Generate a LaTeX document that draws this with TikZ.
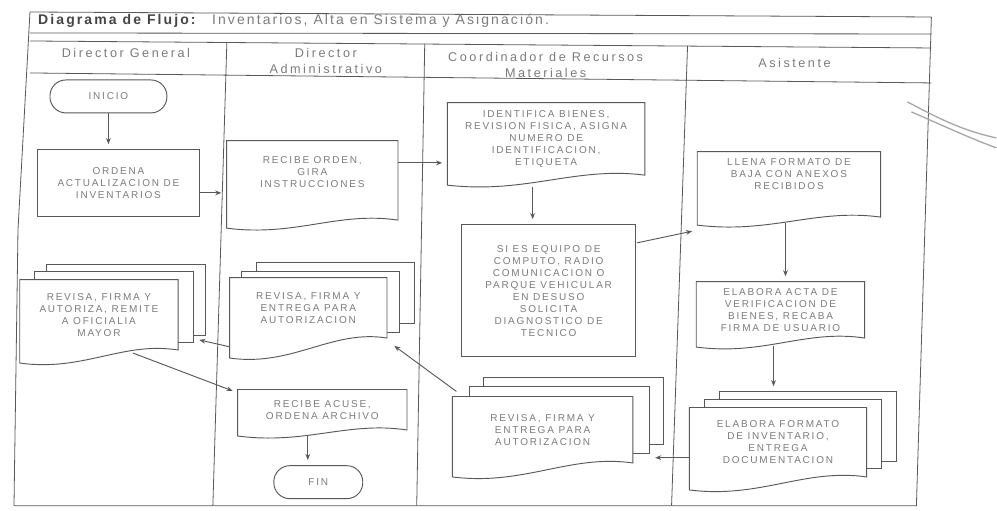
\documentclass[tikz,border=0pt]{standalone}
\usepackage{fontspec}
\setmainfont{Liberation Sans}
\newfontfamily\boxfont[LetterSpace=18]{Liberation Sans}
\newfontfamily\headfont[LetterSpace=20]{Liberation Sans}
\newfontfamily\titlefont[LetterSpace=15]{Liberation Sans}
\usetikzlibrary{arrows.meta,calc}
\pgfdeclarelayer{bg}
\pgfsetlayers{bg,main}
\definecolor{ink}{HTML}{585858}
\definecolor{txtgray}{HTML}{7C7C7C}
\definecolor{titlegray}{HTML}{454545}
\definecolor{scribble}{HTML}{A8A8A8}
\tikzset{
  frameline/.style={draw=ink, line width=0.6pt},
  boxline/.style={draw=ink, line width=0.7pt},
  boxtext/.style={font=\boxfont\fontsize{7.5}{9}\selectfont, text=txtgray, align=center, inner sep=0pt},
  procbox/.style={boxtext, boxline, fill=white},
  termbox/.style={boxtext, boxline, rounded corners=12pt},
  docnode/.style={boxtext},
  headtext/.style={font=\headfont\fontsize{9.5}{11.5}\selectfont, text=txtgray, align=center, inner sep=0pt},
  titletext/.style={font=\titlefont\fontsize{10.5}{12}\selectfont, inner sep=0pt, anchor=west},
  flow/.style={draw=ink, line width=0.7pt, -{Stealth[length=4.5pt,width=3.6pt]}, shorten >=4pt},
  scrib/.style={draw=scribble, line width=1pt},
}
\newcommand\docshape[2]{%
  \draw[boxline,fill=white] (#1.south east) -- (#1.north east) -- (#1.north west) -- ($(#1.south west)+(0,#2)$)
    .. controls ($(#1.south west)!0.4!(#1.south east)+(0,#2+9)$) and ($(#1.south west)!0.65!(#1.south east)+(0,-9)$) .. (#1.south east) -- cycle;}
\newcommand\multidoc[6]{%
  \draw[boxline,fill=white] ($(#1.south west)+(#5,#6)$) rectangle ($(#1.north east)+(#5,#6)$);
  \draw[boxline,fill=white] ($(#1.south west)+(#3,#4)$) rectangle ($(#1.north east)+(#3,#4)$);
  \docshape{#1}{#2}}
\begin{document}
\begin{tikzpicture}[x=0.75pt,y=-0.75pt]
\begin{pgfonlayer}{bg}
\path[use as bounding box, fill=white] (0,0) rectangle (997,511);
\end{pgfonlayer}

% frame and lanes
\draw[frameline] (30,12) -- (932,17);
\draw[frameline] (30,33) -- (932,34);
\draw[frameline] (30,41) -- (932,48);
\draw[frameline] (30,73) -- (932,83);
\draw[frameline] (30,12) -- (18,230) -- (14,506) -- (917,506) -- (932,17);
\draw[frameline] (227,42.5) -- (213,506);
\draw[frameline] (425,44) -- (417,506);
\draw[frameline] (688,46) -- (672,506);

% title
\node[titletext, text=titlegray] (ttl) at (38,21) {\bfseries Diagrama de Flujo:};
\node[titletext, text=txtgray] (ttl2) at (212,21) {Inventarios, Alta en Sistema y Asignación.};

% lane headers
\node[headtext] (hdg) at (126,53) {Director General};
\node[headtext] (hda) at (326,61) {Director\\Administrativo};
\node[headtext] (hcrm) at (546,65) {Coordinador de Recursos\\Materiales};
\node[headtext] (has) at (795,63) {Asistente};

% nodes
\node[termbox, minimum width=87.75pt, minimum height=24.75pt] (inicio) at (108.5,96.5) {INICIO};
\node[procbox, minimum width=122.25pt, minimum height=50.25pt] (ordena) at (118.5,183.5) {ORDENA\\ACTUALIZACION DE\\INVENTARIOS};
\node[docnode, minimum width=128.25pt, minimum height=59.25pt] (recibe) at (312.5,180.5) {RECIBE ORDEN,\\GIRA\\INSTRUCCIONES\\[4pt]};
\node[docnode, minimum width=147.75pt, minimum height=54pt] (identifica) at (546.5,139) {IDENTIFICA BIENES,\\REVISION FISICA, ASIGNA\\NUMERO DE\\IDENTIFICACION,\\ETIQUETA};
\node[procbox, minimum width=130.5pt, minimum height=99pt] (sies) at (549,291) {SI ES EQUIPO DE\\COMPUTO, RADIO\\COMUNICACION O\\PARQUE VEHICULAR\\EN DESUSO\\SOLICITA\\DIAGNOSTICO DE\\TECNICO};
\node[docnode, minimum width=137.25pt, minimum height=48.75pt] (llena) at (789.5,184.5) {LLENA FORMATO DE\\BAJA CON ANEXOS\\RECIBIDOS\\[6pt]};
\node[docnode, minimum width=126pt, minimum height=42pt] (acta) at (781,310) {ELABORA ACTA DE\\VERIFICACION DE\\BIENES, RECABA\\FIRMA DE USUARIO};
\node[docnode, minimum width=132.75pt, minimum height=51.75pt] (formato) at (778.5,442.5) {ELABORA FORMATO\\DE INVENTARIO,\\ENTREGA\\DOCUMENTACION};
\node[docnode, minimum width=135pt, minimum height=49.5pt] (revcoord) at (543,430) {REVISA, FIRMA Y\\ENTREGA PARA\\AUTORIZACION};
\node[docnode, minimum width=117.75pt, minimum height=45pt] (revda) at (308.5,308) {REVISA, FIRMA Y\\ENTREGA PARA\\AUTORIZACION};
\node[docnode, minimum width=118.5pt, minimum height=52.5pt] (revdg) at (99,315) {REVISA, FIRMA Y\\AUTORIZA, REMITE\\A OFICIALIA\\MAYOR};
\node[docnode, minimum width=126.75pt, minimum height=30pt] (acuse) at (322.5,410) {RECIBE ACUSE,\\ORDENA ARCHIVO};
\node[termbox, minimum width=66.75pt, minimum height=24.75pt] (fin) at (318.5,482.5) {FIN};

% document outlines
\begin{pgfonlayer}{bg}
\docshape{recibe}{8}
\docshape{identifica}{10}
\docshape{llena}{8}
\docshape{acta}{9}
\docshape{acuse}{6}
\multidoc{formato}{13}{15}{-8}{30}{-16}
\multidoc{revcoord}{14}{17}{-10}{31}{-19}
\multidoc{revda}{20}{12}{-6}{27}{-15}
\multidoc{revdg}{13}{15}{-8}{27}{-15}
\end{pgfonlayer}

% connectors
\draw[flow] (inicio.south) -- (inicio.south |- ordena.north);
\draw[flow] ($(ordena.east)+(0,9.5)$) -- ($(recibe.west)+(0,12.5)$);
\draw[flow] ($(recibe.east)+(0,-17.5)$) -- ($(identifica.west)+(0,24)$);
\draw[flow] ($(identifica.south)+(-13.5,12)$) -- ($(sies.north)+(-16,0)$);
\draw[flow] ($(sies.east)+(1,-48)$) -- ($(llena.south west)+(0,13)$);
\draw[flow] ($(llena.south)+(-3.5,6)$) -- ($(acta.north)+(5,0)$);
\draw[flow] ($(acta.south)+(-7,8)$) -- ($(formato.north)+(-4.5,-16)$);
\draw[flow] ($(formato.west)+(0,15.5)$) -- ($(revcoord.east)+(17,28)$);
\draw[flow] ($(revcoord.north west)+(4,-5)$) -- ($(revda.east)+(3,35)$);
\draw[flow] ($(revda.west)+(0,39)$) -- ($(revdg.east)+(16,24)$);
\draw[flow] ($(revdg.south)+(34,3)$) -- ($(acuse.west)+(0,-17)$);
\draw[flow] ($(acuse.south)+(-14.5,6)$) -- ($(fin.north)+(-10.5,0)$);

% pen scribble at right margin
\draw[scrib] (908,102) .. controls (935,116) and (960,130) .. (997,138);
\draw[scrib] (912,112) .. controls (940,124) and (965,136) .. (997,148);
\end{tikzpicture}
\end{document}
